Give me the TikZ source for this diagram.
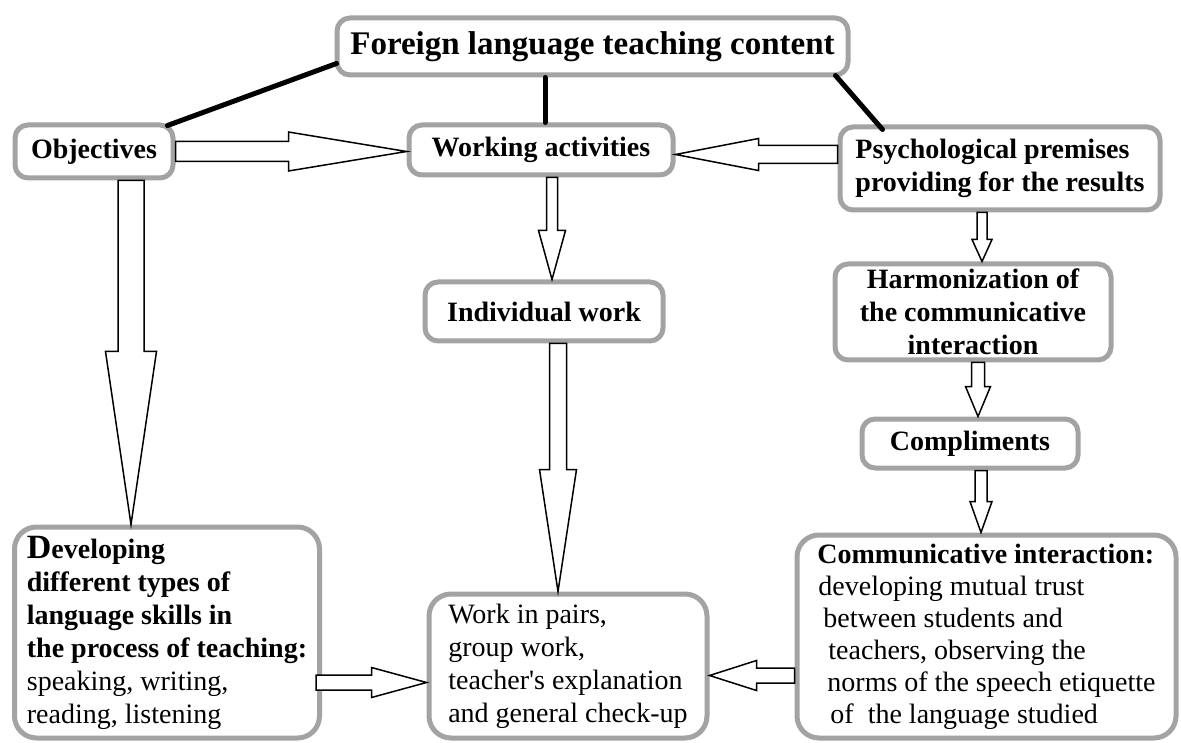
\documentclass[tikz,border=0pt]{standalone}
\usepackage{fontspec}
\setmainfont{Liberation Serif}
\usetikzlibrary{calc}
\definecolor{bordr}{HTML}{A3A3A3}
\tikzset{
  box/.style    ={draw=bordr, line width=5pt, rounded corners=13pt, fill=white,
                  inner sep=0pt, align=center, text=black,
                  font=\fontsize{28}{33}\selectfont\bfseries},
  bigbox/.style ={box, rounded corners=22pt, align=left},
  ttl/.style    ={box, font=\fontsize{33}{38}\selectfont\bfseries},
  tie/.style    ={draw=black, line width=5pt, line cap=round},
  blk/.style    ={draw=black, line width=1.5pt, fill=white, line join=miter},
}
% hollow block arrow: from, tip, half shaft, half head, head length
\newcommand{\blockarrow}[5]{%
  \coordinate (ba-h) at ($(#2)!#5!(#1)$);
  \draw[blk] ($(#1)!#3!90:(#2)$) -- ($(ba-h)!#3!90:(#2)$) -- ($(ba-h)!#4!90:(#2)$)
    -- (#2) -- ($(ba-h)!#4!-90:(#2)$) -- ($(ba-h)!#3!-90:(#2)$)
    -- ($(#1)!#3!-90:(#2)$) -- cycle;}

\begin{document}
\begin{tikzpicture}[x=1pt, y=-1pt]
  \useasboundingbox (0,0) rectangle (1181,743);

  % ---- top ----
  \node[ttl, minimum width=511pt, minimum height=57pt] (title) at (592.5,46.5)
        {Foreign language teaching content};
  \node[box, minimum width=158pt, minimum height=53pt] (obj) at (94,151.5) {Objectives};
  \node[box, minimum width=264pt, minimum height=50pt] (work) at (541,150) {Working activities};
  \node[box, minimum width=320pt, minimum height=83pt, align=left]
        (psych) at (1000,168.5) {Psychological premises\\providing for the results};

  % ---- middle ----
  \node[box, minimum width=238pt, minimum height=59pt] (indiv) at (544,311.5) {Individual work};
  \node[box, minimum width=276pt, minimum height=96pt] (harm) at (973,312)
        {Harmonization of\\the communicative\\interaction};
  \node[box, minimum width=216pt, minimum height=49pt] (compl) at (970,443.5) {Compliments};

  % ---- bottom ----
  \node[bigbox, minimum width=305pt, minimum height=211pt] (dev) at (167,632.5)
        {{\fontsize{34}{33}\selectfont D}eveloping\\different types of\\language skills in\\
         the process of teaching:\\\mdseries speaking, writing,\\\mdseries reading, listening};
  \node[bigbox, minimum width=278pt, minimum height=144pt, font=\fontsize{28}{33}\selectfont]
        (pairs) at (568,666)
        {Work in pairs,\\group work,\\teacher\textquotesingle s explanation\\and general check-up};
  \node[bigbox, minimum width=379pt, minimum height=203pt, font=\fontsize{28}{32}\selectfont]
        (comm) at (986.5,636.5)
        {\textbf{Communicative interaction:}\\\hspace*{1pt}developing mutual trust\\
         \hspace*{6pt}between students and\\\hspace*{11pt}teachers, observing the\\
         \hspace*{10pt}norms of the speech etiquette\\\hspace*{13pt}of\ \ the language studied};

  % ---- ties from the title ----
  \coordinate (c2) at ($(work.north)+(4,0)$);
  \draw[tie] ($(title.south west)+(2,-14)$) -- ($(obj.north east)+(-8,3)$);
  \draw[tie] (title.south -| c2) -- (c2);
  \draw[tie] ($(title.south east)+(-15,-2)$) -- ($(psych.north west)+(45,5)$);

  % ---- block arrows ----
  \coordinate (o1) at (obj.east);
  \coordinate (w1) at (work.west |- o1);
  \blockarrow{o1}{w1}{10pt}{19.5pt}{118pt}
  \coordinate (p2) at ($(psych.west)+(0,-14)$);
  \coordinate (w2) at (work.east |- p2);
  \blockarrow{p2}{w2}{9pt}{16pt}{83pt}
  \coordinate (w3) at ($(work.south)+(11,0)$);
  \coordinate (i3) at (indiv.north -| w3);
  \blockarrow{w3}{i3}{5.5pt}{13.5pt}{49pt}
  \coordinate (i4) at ($(indiv.south)+(14,0)$);
  \coordinate (q4) at (pairs.north -| i4);
  \blockarrow{i4}{q4}{8.5pt}{18.5pt}{122pt}
  \coordinate (o5) at ($(obj.south)+(37,0)$);
  \coordinate (d5) at (dev.north -| o5);
  \blockarrow{o5}{d5}{13pt}{25.5pt}{173pt}
  \coordinate (p6) at ($(psych.south)+(-18,0)$);
  \coordinate (h6) at (harm.north -| p6);
  \blockarrow{p6}{h6}{5pt}{10pt}{22pt}
  \coordinate (h7) at ($(harm.south)+(5,0)$);
  \coordinate (c7) at (compl.north -| h7);
  \blockarrow{h7}{c7}{6.5pt}{12.5pt}{30pt}
  \coordinate (c8) at ($(compl.south)+(11,0)$);
  \coordinate (m8) at (comm.north -| c8);
  \blockarrow{c8}{m8}{6pt}{11pt}{31pt}
  \coordinate (d9) at ($(dev.east)+(-6,50)$);
  \coordinate (q9) at (pairs.west |- d9);
  \blockarrow{d9}{q9}{7.5pt}{15pt}{55pt}
  \coordinate (m10) at ($(comm.west)+(0,39)$);
  \coordinate (q10) at (pairs.east |- m10);
  \blockarrow{m10}{q10}{7.5pt}{15pt}{47pt}

\end{tikzpicture}
\end{document}
